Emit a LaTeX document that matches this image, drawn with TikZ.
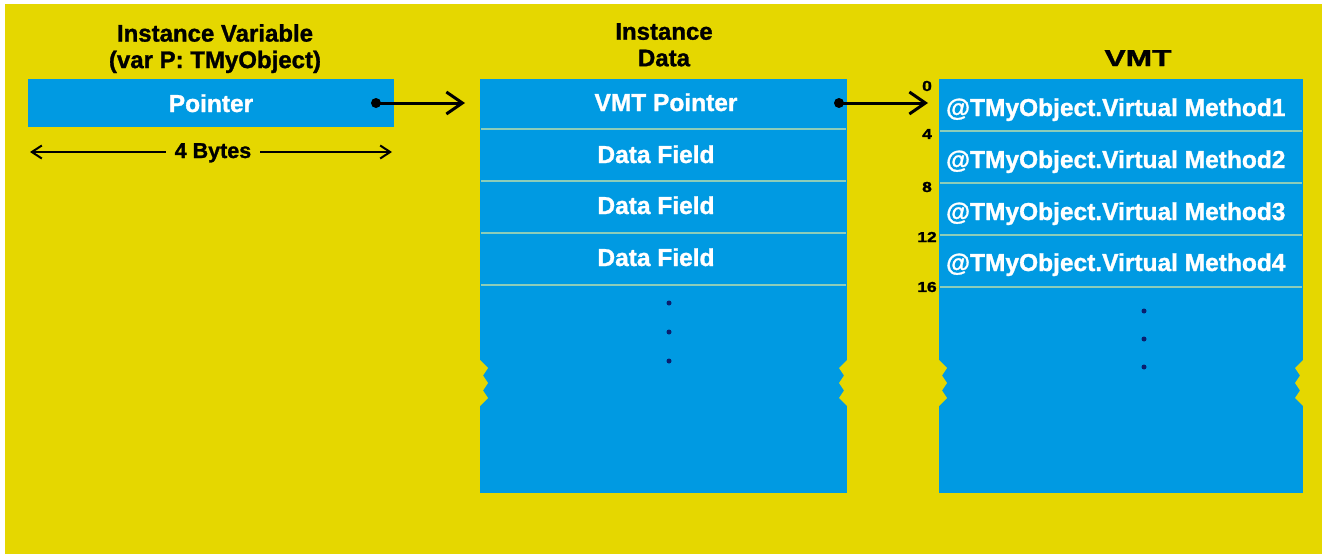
\documentclass[tikz,border=0pt]{standalone}
\usepackage{fontspec}
\setmainfont{Liberation Sans}[BoldFeatures={FakeBold=1.2}]
\usetikzlibrary{arrows.meta}

\definecolor{bgyellow}{RGB}{229,215,0}
\definecolor{cellblue}{RGB}{0,154,226}
\definecolor{rowrule}{RGB}{140,205,185}
\definecolor{dotnavy}{RGB}{10,30,110}

\begin{document}
\begin{tikzpicture}[x=1pt,y=-1pt,
  heading/.style={font=\bfseries\fontsize{24}{26.5}\selectfont, text=black, align=center, inner sep=0pt, anchor=north},
  wideheading/.style={font=\bfseries\fontsize{23}{26}\selectfont, text=black, inner sep=0pt, anchor=base, xscale=1.38},
  offset/.style={font=\bfseries\fontsize{14.5}{16}\selectfont, text=black, inner sep=0pt, xscale=1.2},
  celltext/.style={font=\bfseries\fontsize{24.5}{28}\selectfont, text=white, inner sep=0pt, anchor=base},
  block/.style={fill=cellblue, draw=none, inner sep=0pt, anchor=north west},
  divider/.style={draw=rowrule, line width=1.6pt},
  ptrarrow/.style={line width=3pt, -{Straight Barb[length=16pt,width=22pt]}},
  dimarrow/.style={line width=2pt, -{Straight Barb[length=10pt,width=13pt]}},
  ellipsisdot/.style={fill=dotnavy},
  notch/.style={fill=bgyellow, draw=none}
]
% page and backdrop
\useasboundingbox (0,0) rectangle (1322,554);
\fill[white] (0,0) rectangle (1322,554);
\fill[bgyellow] (5,4) rectangle (1322,554);

% ---------- instance variable ----------
\node[heading] (vartitle) at (215,24) {Instance Variable\\(var P: TMyObject)};
\node[block, minimum width=366pt, minimum height=48pt] (ptrbox) at (28,79) {};
\node[celltext] (ptrlabel) at (211,112) {Pointer};

% size dimension under the pointer
\coordinate (bytesL) at (30,152);
\coordinate (bytesR) at (392,152);
\node[font=\bfseries\fontsize{21.5}{24}\selectfont, inner ysep=0pt, inner xsep=9pt, anchor=base] (bytes) at (213,158) {4 Bytes};
\draw[dimarrow] (bytes.west |- bytesL) -- (bytesL);
\draw[dimarrow] (bytes.east |- bytesR) -- (bytesR);

% ---------- instance data ----------
\node[heading] (datatitle) at (664,23) {Instance\\Data};
\node[block, minimum width=367pt, minimum height=414pt] (idata) at (480,79) {};
\foreach \y in {129,181,233,285} \draw[divider] (481,\y) -- (846,\y);
\node[celltext] (vmtptr) at (666,111) {VMT Pointer};
\node[celltext] (field1) at (656,163) {Data Field};
\node[celltext] (field2) at (656,214) {Data Field};
\node[celltext] (field3) at (656,266) {Data Field};
\foreach \y in {303,332,361} \fill[ellipsisdot] (669,\y) circle (2.5);

% ---------- virtual method table ----------
\node[wideheading] (vmttitle) at (1138,66) {VMT};
\node[block, minimum width=364pt, minimum height=414pt] (vmt) at (939,79) {};
\foreach \y in {131,183,235,287} \draw[divider] (940,\y) -- (1302,\y);
\node[celltext, anchor=base west] (method1) at (946,116) {@TMyObject.Virtual Method1};
\node[celltext, anchor=base west] (method2) at (946,168) {@TMyObject.Virtual Method2};
\node[celltext, anchor=base west] (method3) at (946,220) {@TMyObject.Virtual Method3};
\node[celltext, anchor=base west] (method4) at (946,271) {@TMyObject.Virtual Method4};
\foreach \y in {311,339,367} \fill[ellipsisdot] (1144,\y) circle (2.5);

% byte offsets of the table slots
\node[offset] (off0) at (927,86) {0};
\node[offset] (off4) at (927,134) {4};
\node[offset] (off8) at (927,187) {8};
\node[offset] (off12) at (927,237) {12};
\node[offset] (off16) at (927,287) {16};

% torn edges of the open-ended blocks
\foreach \ex/\d in {480/1, 847/-1, 939/1, 1303/-1} {
  \fill[notch] (\ex-\d*1,359) -- (\ex+\d*8,368) -- (\ex+\d*3,375.5) -- (\ex+\d*8,383)
     -- (\ex+\d*3,390.5) -- (\ex+\d*8,398) -- (\ex-\d*1,407) -- cycle;
}

% ---------- pointers ----------
\coordinate (src1) at (376,103);
\coordinate (dst1) at (465,103);
\coordinate (src2) at (839,103);
\coordinate (dst2) at (928,103);
\fill (src1) circle (5);
\fill (src2) circle (5);
\draw[ptrarrow] (src1) -- (dst1);
\draw[ptrarrow] (src2) -- (dst2);
\end{tikzpicture}
\end{document}
